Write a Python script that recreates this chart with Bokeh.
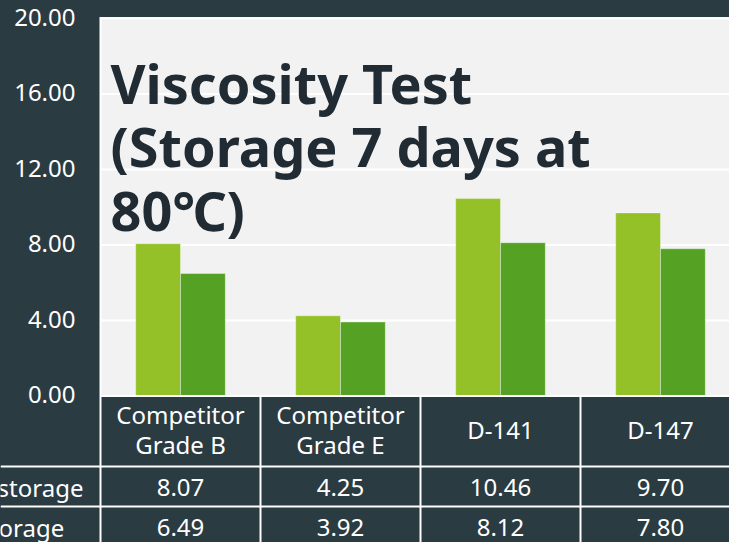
from bokeh.plotting import figure
from bokeh.models import (Range1d, Label, BoxAnnotation, Span, ColumnDataSource,
                          GlobalInlineStyleSheet)
from bokeh.transform import dodge
from bokeh.core.properties import value
from bokeh.embed import file_html
from bokeh.resources import INLINE

# ---------------- data ----------------
categories = ["Competitor\nGrade B", "Competitor\nGrade E", "D-141", "D-147"]
series_names = ["Before storage", "After storage"]
before_storage = [8.07, 4.25, 10.46, 9.70]
after_storage = [6.49, 3.92, 8.12, 7.80]
y_ticks = [0, 4, 8, 12, 16, 20]
title_lines = ["Viscosity Test", "(Storage 7 days at", "80\u2103)"]

# ---------------- style ----------------
BG = "#2b3b42"
PLOT_BG = "#f2f2f2"
LIGHT = "#93c127"
DARK = "#55a124"
TITLE_C = "#202b33"
FONT = "Noto Sans"

W, H = 729, 542
PLOT_LEFT = 100          # page x of the plot-area left edge
ZERO_Y = 395.5           # page y of value 0
PX_Y = 18.875            # pixels per y unit
PX_X = 160.0             # pixels per category

def xpix(page_x):
    return (page_x - PLOT_LEFT) / PX_X

def ypix(page_y):
    return (ZERO_Y - page_y) / PX_Y

x_start, x_end = xpix(0), xpix(W)
y_start, y_end = ypix(H), ypix(0)
plot_top = ypix(16.5)

n = len(categories)
xs = [i + 0.5 for i in range(n)]
src = ColumnDataSource(dict(x=xs, before=before_storage, after=after_storage,
                            cat=categories,
                            bt=[f"{v:.2f}" for v in before_storage],
                            at=[f"{v:.2f}" for v in after_storage]))
tick_src = ColumnDataSource(dict(y=y_ticks, lab=[f"{t:.2f}" for t in y_ticks],
                                 x0=[0] * len(y_ticks), x1=[x_end] * len(y_ticks)))

p = figure(width=W, height=H, output_backend="svg", toolbar_location=None,
           x_range=Range1d(x_start, x_end), y_range=Range1d(y_start, y_end),
           x_axis_location=None, y_axis_location=None,
           min_border=0, background_fill_color=BG, border_fill_color=BG,
           outline_line_color=None)
p.grid.visible = False

# plot area
p.add_layout(BoxAnnotation(left=0, bottom=0, top=plot_top, fill_color=PLOT_BG,
                           fill_alpha=1, line_color=None, level="underlay"))

# grid lines and tick labels (value axis)
p.segment(x0="x0", x1="x1", y0="y", y1="y", source=tick_src,
          line_color="white", line_width=2)
p.text(x=xpix(75), y="y", text="lab", source=tick_src, text_align="right",
       text_baseline="middle", text_color="white", text_font=value(FONT),
       text_font_size="24px", y_offset=-1.5)

# bars
p.vbar(x=dodge("x", -0.14, range=p.x_range), top="before", width=0.28, source=src,
       fill_color=LIGHT, line_color="white", line_alpha=0.35, line_width=1)
p.vbar(x=dodge("x", 0.14, range=p.x_range), top="after", width=0.28, source=src,
       fill_color=DARK, line_color="white", line_alpha=0.35, line_width=1)

# baseline + plot-area left edge
p.segment(x0=[0], x1=[x_end], y0=[0], y1=[0], line_color="white", line_width=2)
p.segment(x0=[0], x1=[0], y0=[y_start], y1=[plot_top], line_color="white",
          line_width=2)

# data-table borders
for r in [ypix(466), ypix(506)]:
    p.add_layout(Span(location=r, dimension="width", line_color="white",
                      line_width=2))
p.segment(x0=list(range(1, n)), x1=list(range(1, n)), y0=[0] * (n - 1),
          y1=[y_start] * (n - 1), line_color="white", line_width=2)

# data-table text
p.text(x="x", y=ypix(429), text="cat", source=src, text_align="center",
       text_baseline="middle", text_color="white", text_font=value(FONT),
       text_font_size="24px", text_line_height=0.93)
p.text(x="x", y=ypix(487), text="bt", source=src, text_align="center",
       text_baseline="alphabetic", text_color="white", text_font=value(FONT),
       text_font_size="24px")
p.text(x="x", y=ypix(527), text="at", source=src, text_align="center",
       text_baseline="alphabetic", text_color="white", text_font=value(FONT),
       text_font_size="24px")

for name, yy in zip(series_names, [ypix(487), ypix(527)]):
    p.add_layout(Label(x=xpix(-84), y=yy, text=name, text_align="left",
                       text_baseline="alphabetic", text_color="white",
                       text_font=FONT, text_font_size="24px"))

# title
for line, yy in zip(title_lines, [ypix(82), ypix(145), ypix(209)]):
    p.add_layout(Label(x=xpix(110), y=yy, text=line, text_align="left",
                       text_baseline="alphabetic", text_color=TITLE_C,
                       text_font=FONT, text_font_style="bold",
                       text_font_size="54px"))

p.stylesheets = [GlobalInlineStyleSheet(css="body{background:%s;}" % BG)]

open("out.html", "w").write(file_html(p, INLINE))
